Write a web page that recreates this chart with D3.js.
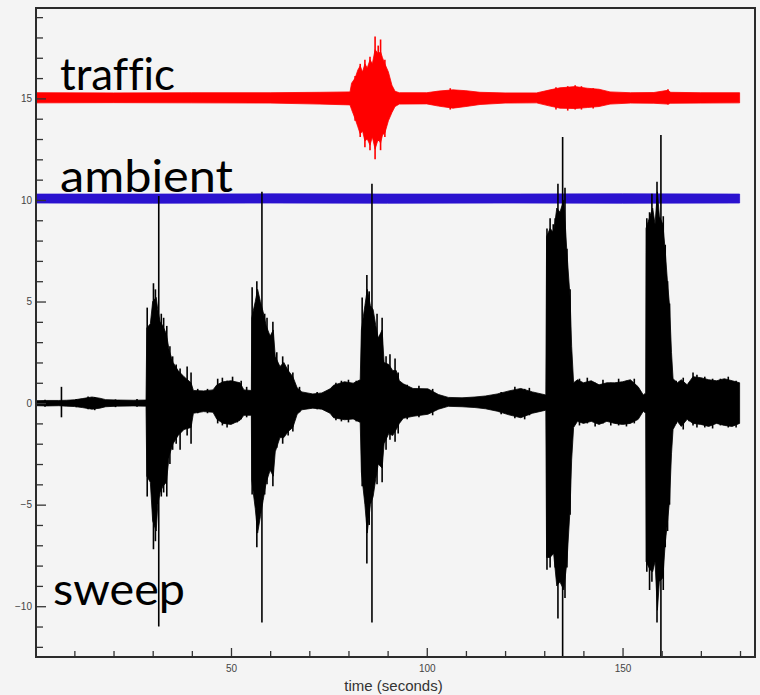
<!DOCTYPE html>
<html>
<head>
<meta charset="utf-8">
<script src="https://cdn.jsdelivr.net/npm/d3@7"></script>
<style>
  html, body { margin: 0; padding: 0; background: #f4f4f4; }
  svg { display: block; }
  .tick text { font-family: "Liberation Sans", Arial, sans-serif; font-size: 10px; fill: #444; }
  .tick line { stroke: #333; stroke-width: 1.3; }
  .big { font-family: Lato, "Open Sans", sans-serif; font-size: 44px; fill: #000;
         font-variant-ligatures: none; font-feature-settings: "liga" 0, "clig" 0; }
</style>
</head>
<body>
<svg id="chart" width="760" height="695"></svg>
<script>
// Seismometer traces: each row is [time (s), lower envelope, upper envelope].
const trafficBand = [
  [0.4,14.78,15.28],[20,14.79,15.27],[40,14.78,15.28],[60,14.77,15.28],[72.7,14.72,15.3],
  [80.4,14.68,15.32],[80.8,14.45,15.75],[81.7,14.0,16.0],[82.4,13.6,16.4],[83.0,13.25,16.6],
  [83.6,13.4,16.3],[84.2,12.9,16.7],[84.8,13.0,16.5],[85.5,12.7,16.9],[86.1,13.1,16.7],
  [86.8,12.5,17.4],[87.6,13.0,17.2],[88.2,12.8,17.3],[88.7,13.2,17.0],[89.3,13.3,16.7],
  [90.2,13.9,16.3],[91.1,14.3,15.65],[91.9,14.6,15.35],[93,14.72,15.28],[100,14.73,15.28],
  [103,14.62,15.36],[106.7,14.52,15.42],[110,14.6,15.38],[113.6,14.7,15.3],[120,14.77,15.27],
  [128,14.78,15.27],[131.5,14.62,15.42],[134,14.52,15.52],[137.9,14.5,15.58],[141,14.55,15.5],
  [144,14.6,15.45],[146.8,14.72,15.32],[152,14.77,15.28],[158,14.76,15.29],[161.6,14.72,15.4],
  [162.3,14.76,15.3],[170,14.77,15.28],[179.9,14.78,15.28]
];
const trafficSpikes = [
  [81.7,13.9,16.1],[83.0,13.1,16.7],[84.2,12.6,16.9],[85.5,12.45,17.05],[86.8,12.0,18.05],
  [87.6,12.9,17.6],[88.2,12.45,17.9],[89.3,13.1,16.9],[106,14.45,15.5],[133,14.45,15.55],
  [136,14.4,15.6],[137.9,14.45,15.65],[139.5,14.45,15.6],[142.5,14.5,15.5],[161.6,14.7,15.45]
];

const ambientBand = [
  [0.4,9.85,10.29],[30,9.84,10.29],[60,9.85,10.3],[90,9.84,10.29],
  [120,9.85,10.29],[150,9.84,10.3],[179.9,9.85,10.29]
];

const sweepBand = [
  [0.4,-0.13,0.12],[3,-0.14,0.13],[6,-0.13,0.13],[8,-0.15,0.14],[10,-0.17,0.16],[12,-0.22,0.22],
  [14.5,-0.3,0.3],[16.5,-0.25,0.24],[18,-0.18,0.17],[21,-0.15,0.15],[25,-0.14,0.14],[28.3,-0.15,0.15],
  [28.5,-3.6,3.7],[29.4,-3.9,3.9],[30.0,-5.8,5.0],[30.9,-6.3,5.2],[31.3,-5.0,4.6],[31.9,-4.4,4.0],
  [32.6,-4.1,3.8],[33.5,-3.9,3.4],[34.2,-2.6,2.6],[35.2,-2.0,2.0],[36.5,-1.6,1.6],[38,-1.3,1.3],
  [39.8,-1.2,1.0],[40.4,-0.5,0.62],[43,-0.42,0.6],[45.4,-0.45,0.65],[46.4,-0.8,0.9],[48,-1.0,1.05],
  [50,-1.05,1.1],[52.3,-0.85,1.0],[53.3,-0.6,0.65],[55.2,-0.6,0.62],
  [55.3,-3.8,4.2],[56.2,-5.2,5.0],[56.8,-6.4,5.6],[57.5,-5.6,5.0],[58.2,-4.8,4.5],[59.0,-3.9,3.8],
  [60.0,-3.3,3.3],[60.8,-3.6,3.6],[61.3,-2.4,2.3],[62.5,-1.7,1.8],[63.5,-1.7,2.0],[64.6,-1.4,1.6],
  [65.8,-1.2,1.3],[66.9,-0.55,0.75],[68.1,-0.33,0.55],[70.9,-0.25,0.45],[73.2,-0.3,0.5],
  [75.3,-0.5,0.7],[76.2,-0.72,0.88],[79,-0.82,1.05],[81.2,-0.78,0.98],[83.0,-0.95,1.15],
  [83.3,-3.4,3.6],[84.2,-5.0,4.8],[84.8,-6.4,5.6],[85.6,-5.0,4.8],[86.3,-4.6,4.6],[87.0,-3.7,3.8],
  [87.6,-3.0,3.2],[88.6,-3.2,3.6],[89.1,-2.0,2.0],[90.3,-1.5,1.9],[91.3,-1.6,1.6],[92.2,-1.3,1.6],
  [93.0,-1.0,1.1],[94,-0.75,0.95],[96.5,-0.65,0.72],[100.3,-0.55,0.7],[103,-0.3,0.42],
  [105.5,-0.16,0.28],[109,-0.18,0.26],[112.3,-0.22,0.3],[115,-0.28,0.35],[118,-0.4,0.45],
  [121,-0.58,0.6],[124,-0.72,0.72],[127,-0.5,0.55],[130.4,-0.35,0.4],
  [130.6,-7.6,8.2],[131.5,-7.6,8.6],[132.4,-7.4,8.4],[133.2,-9.0,9.6],[134.0,-8.8,9.4],
  [135.0,-9.2,10.0],[135.8,-7.8,7.4],[136.6,-5.2,5.2],[137.0,-2.8,2.8],[137.5,-1.2,1.0],
  [138.5,-0.9,1.15],[140,-1.0,1.0],[142,-0.9,1.1],[144,-1.05,0.9],[146,-0.9,1.0],[148,-1.0,1.0],
  [150,-1.05,1.05],[152,-1.0,1.15],[154,-0.8,0.8],[155.3,-0.4,0.4],
  [155.9,-0.5,0.5],[156.0,-7.8,8.6],[157.0,-8.2,9.2],[157.7,-8.3,9.6],[158.3,-7.8,8.8],
  [158.9,-10.2,10.4],[159.4,-8.8,9.2],[160.3,-8.6,8.8],[160.9,-6.9,7.5],[161.5,-5.8,5.9],
  [162.0,-4.8,4.8],[162.5,-2.5,2.5],[162.9,-1.3,1.2],[164,-0.9,1.0],[165,-1.15,1.15],
  [166.5,-0.8,0.9],[168,-1.0,1.3],[170,-1.05,1.25],[172,-1.15,1.15],[174,-1.0,1.1],
  [176,-1.1,1.2],[178,-1.15,1.1],[179.9,-1.0,1.0]
];
const sweepSpikes = [
  [2.5,-0.18,0.16],[6.7,-0.7,0.8],[10.5,-0.2,0.2],[13.5,-0.3,0.32],[15.2,-0.35,0.3],
  [20.5,-0.2,0.18],[26,-0.18,0.2],
  [28.6,-4.6,4.7],[30.2,-7.2,5.9],[30.7,-6.8,5.6],[31.55,-11.0,10.2],[32.2,-4.6,4.4],[32.8,-4.4,4.2],
  [33.6,-4.6,3.8],[34.4,-3.0,2.8],[35.1,-2.3,2.3],[36.0,-2.0,1.9],[37.0,-2.3,1.7],[38.8,-1.6,1.8],
  [39.8,-2.0,1.5],[41.5,-0.5,0.7],[44,-0.5,0.7],[46.6,-1.0,1.2],[47.8,-1.1,1.25],[49,-1.2,1.1],
  [50.4,-1.0,1.3],[51.6,-0.95,1.0],[52.6,-0.8,1.1],[54,-0.7,0.8],
  [55.4,-4.5,5.7],[56.6,-7.1,6.0],[57.9,-10.8,10.4],[58.6,-4.5,4.4],[59.2,-4.0,4.2],[60.7,-4.1,4.0],
  [61.7,-2.2,2.5],[63.2,-2.0,2.3],[64.6,-1.6,1.9],[65.8,-1.4,1.5],[67.5,-0.45,0.8],[72,-0.3,0.55],
  [76.8,-0.85,1.0],[78.2,-0.9,1.1],[80,-0.95,1.15],[82,-0.9,1.1],
  [83.5,-4.1,5.2],[84.7,-7.9,6.3],[85.3,-6.0,5.5],[86.0,-10.8,10.8],[87.3,-4.0,4.4],[88.6,-3.9,4.2],
  [89.6,-2.3,2.3],[90.6,-1.8,2.4],[91.9,-1.9,2.2],[92.7,-1.5,1.5],[95,-0.8,0.9],[98,-0.7,0.85],
  [101.5,-0.6,0.7],[119,-0.55,0.55],[122.5,-0.75,0.8],[125,-0.8,0.7],[126.2,-0.6,0.75],
  [130.7,-8.2,8.6],[131.5,-8.1,9.1],[132.3,-7.4,8.8],[132.8,-8.1,9.1],[133.5,-10.6,10.8],
  [134.7,-12.5,13.1],[135.3,-9.6,10.6],[135.8,-8.1,7.6],[136.6,-5.5,5.6],
  [139,-1.1,1.2],[141,-1.0,1.25],[143,-1.15,1.0],[145,-1.0,1.15],[147,-1.1,1.0],[149,-1.1,1.2],
  [151,-1.15,1.1],[153,-1.0,1.2],
  [156.2,-8.3,9.1],[156.9,-9.2,9.4],[157.5,-8.8,10.3],[158.8,-10.8,10.9],[159.8,-12.5,13.2],
  [160.4,-9.2,9.2],[160.9,-7.1,7.8],[161.5,-6.3,6.0],[162.0,-5.0,4.9],
  [163.7,-1.0,1.1],[165.5,-1.3,1.25],[167,-0.9,1.0],[168,-1.1,1.5],[169,-1.2,1.4],[171,-1.2,1.3],
  [173,-1.25,1.2],[175,-1.1,1.2],[177,-1.2,1.3],[179,-1.2,1.1]
];

const xMajorTicks = [50, 100, 150];
const xMinorTicks = [10, 20, 30, 40, 60, 70, 80, 90, 110, 120, 130, 140, 160, 170, 180];
const yMajorTicks = [-10, -5, 0, 5, 10, 15];
const yMinorTicks = [-12, -11, -9, -8, -7, -6, -4, -3, -2, -1, 1, 2, 3, 4, 6, 7, 8, 9, 11, 12, 13, 14, 16, 17, 18, 19];

const traceLabels = [
  { text: "traffic", x: 60, y: 90, len: 115 },
  { text: "ambient", x: 60, y: 192, len: 173 },
  { text: "sweep", x: 53, y: 605, len: 132 }
];

const frame = { left: 36, right: 755, top: 8, bottom: 657 };
const svg = d3.select("#chart");

const x = d3.scaleLinear().domain([0.2, 183.7]).range([frame.left, 754.5]);
const y = d3.scaleLinear().domain([-12.5, 19.45]).range([frame.bottom, frame.top]);

const area = d3.area()
  .x(d => x(d[0]))
  .y0(d => y(d[1]))
  .y1(d => y(d[2]));

const plot = svg.append("g");

function drawTrace(band, spikes, colour) {
  plot.append("path")
    .datum(band)
    .attr("d", area)
    .attr("fill", colour)
    .attr("stroke", colour)
    .attr("stroke-width", 0.8)
    .attr("stroke-linejoin", "round");
  if (spikes) {
    plot.append("g").selectAll("line")
      .data(spikes)
      .join("line")
      .attr("x1", d => x(d[0])).attr("x2", d => x(d[0]))
      .attr("y1", d => y(d[1])).attr("y2", d => y(d[2]))
      .attr("stroke", colour)
      .attr("stroke-width", 1.6);
  }
}

drawTrace(ambientBand, null, "#2a12cf");
drawTrace(sweepBand, sweepSpikes, "#000");
drawTrace(trafficBand, trafficSpikes, "#ff0000");

// axes: ticks point into the plot
function styleAxis(g) { g.select(".domain").remove(); }

svg.append("g").attr("transform", `translate(${frame.left},0)`)
  .call(d3.axisLeft(y).tickValues(yMinorTicks).tickSize(-7).tickFormat(""))
  .call(styleAxis);
svg.append("g").attr("transform", `translate(${frame.left},0)`)
  .call(d3.axisLeft(y).tickValues(yMajorTicks).tickSize(-10).tickPadding(4).tickFormat(d3.format("d")))
  .call(styleAxis);

svg.append("g").attr("transform", `translate(0,${frame.bottom})`)
  .call(d3.axisBottom(x).tickValues(xMinorTicks).tickSize(-6).tickFormat(""))
  .call(styleAxis);
svg.append("g").attr("transform", `translate(0,${frame.bottom})`)
  .call(d3.axisBottom(x).tickValues(xMajorTicks).tickSize(-9).tickPadding(8).tickFormat(d3.format("d")))
  .call(styleAxis);

svg.append("rect")
  .attr("x", frame.left).attr("y", frame.top)
  .attr("width", frame.right - frame.left).attr("height", frame.bottom - frame.top)
  .attr("fill", "none").attr("stroke", "#2b2b2b").attr("stroke-width", 2);

svg.append("text")
  .attr("x", (frame.left + frame.right) / 2 - 2).attr("y", 691)
  .attr("text-anchor", "middle")
  .attr("font-family", "'Liberation Sans', Arial, sans-serif")
  .attr("font-size", 15).attr("fill", "#333")
  .text("time (seconds)");

svg.append("g").selectAll("text")
  .data(traceLabels)
  .join("text")
  .attr("class", "big")
  .attr("x", d => d.x).attr("y", d => d.y)
  .attr("textLength", d => d.len)
  .attr("lengthAdjust", "spacingAndGlyphs")
  .text(d => d.text);
</script>
</body>
</html>
